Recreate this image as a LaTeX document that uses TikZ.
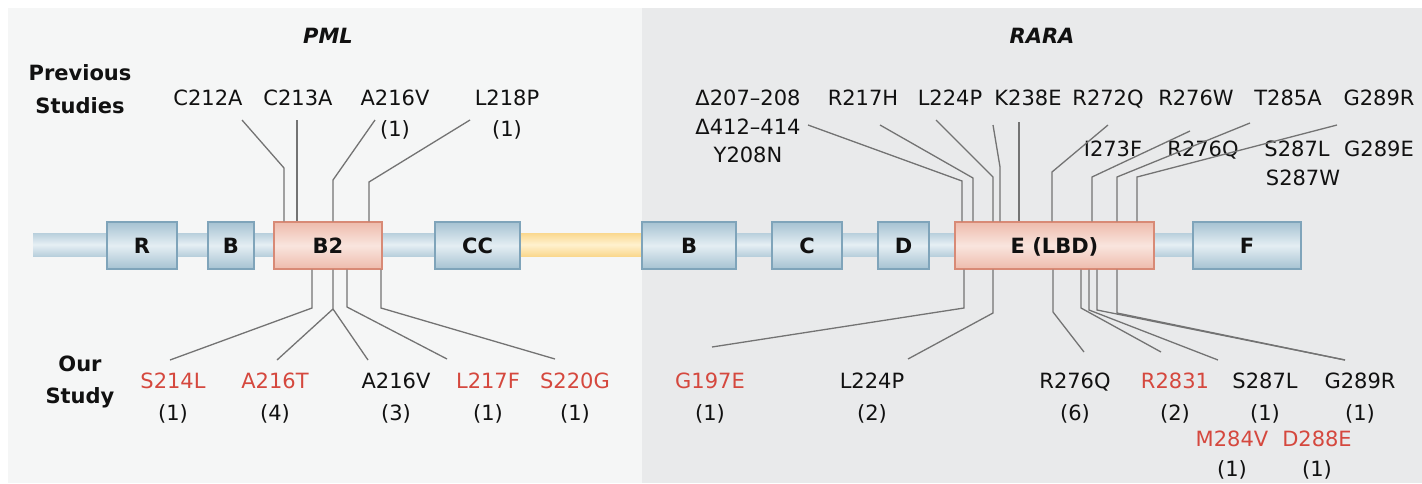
\documentclass[tikz,border=0pt]{standalone}
\usepackage{fontspec}
\setmainfont{DejaVu Sans}
\usetikzlibrary{calc}
\definecolor{panelL}{HTML}{F5F6F6}
\definecolor{panelR}{HTML}{E9EAEB}
\definecolor{ink}{HTML}{111111}
\definecolor{mutred}{HTML}{D5483E}
\definecolor{linegray}{HTML}{737373}
\definecolor{bluedge}{HTML}{7FA4BA}
\definecolor{bluedark}{HTML}{A6C2D2}
\definecolor{bluelight}{HTML}{E4EEF3}
\definecolor{rededge}{HTML}{D88A76}
\definecolor{reddark}{HTML}{EEBBAC}
\definecolor{redlight}{HTML}{F9E5DE}
\definecolor{bbdark}{HTML}{B8CFDC}
\definecolor{bblight}{HTML}{E6EFF4}
\definecolor{ydark}{HTML}{FAD88E}
\definecolor{ylight}{HTML}{FFF1CF}
\begin{document}
\begin{tikzpicture}[x=1pt,y=-1pt,
  font=\fontsize{21}{31}\selectfont,
  lab/.style={anchor=base,inner sep=0pt,text=ink},
  novel/.style={text=mutred},
  head/.style={anchor=base,inner sep=0pt,text=ink,font=\fontsize{21}{31}\selectfont\bfseries},
  dombox/.style={draw=bluedge,line width=1.3pt,top color=bluedark,bottom color=bluedark,
    middle color=bluelight,minimum height=47pt,inner sep=0pt,text height=15pt,text depth=0pt,
    text=ink,font=\fontsize{21}{31}\selectfont\bfseries},
  hotbox/.style={dombox,draw=rededge,top color=reddark,bottom color=reddark,middle color=redlight},
  conn/.style={draw=linegray,line width=1.3pt,line join=miter}]
\useasboundingbox (0,0) rectangle (1422,483);
% panels
\fill[white] (0,0) rectangle (1422,483);
\fill[panelL] (8,8) rectangle (642,483);
\fill[panelR] (642,8) rectangle (1422,483);

% backbone
\path[top color=bbdark,bottom color=bbdark,middle color=bblight] (33,233) rectangle (440,256);
\path[top color=ydark,bottom color=ydark,middle color=ylight] (520,233) rectangle (645,256);
\path[top color=bbdark,bottom color=bbdark,middle color=bblight] (734,233) rectangle (1196,256);

% domains
\node[dombox,minimum width=70pt]  (pr)  at (142,245.5)   {R};
\node[dombox,minimum width=46pt]  (pb)  at (231,245.5)   {B};
\node[hotbox,minimum width=108pt] (pb2) at (328,245.5)   {B2};
\node[dombox,minimum width=85pt]  (pcc) at (477.5,245.5) {CC};
\node[dombox,minimum width=94pt]  (rb)  at (689,245.5)   {B};
\node[dombox,minimum width=70pt]  (rc)  at (807,245.5)   {C};
\node[dombox,minimum width=51pt]  (rd)  at (903.5,245.5) {D};
\node[hotbox,minimum width=199pt] (re)  at (1054.5,245.5){E (LBD)};
\node[dombox,minimum width=108pt] (rf)  at (1247,245.5)  {F};

% headings
\node[head,font=\fontsize{21}{31}\selectfont\bfseries\itshape] (pml) at (328,43) {PML};
\node[head,font=\fontsize{21}{31}\selectfont\bfseries\itshape] (rara) at (1042,43) {RARA};
\node[head] (prev1) at (80,80) {Previous};
\node[head] (prev2) at (80,113) {Studies};
\node[head] (our1) at (80,371) {Our};
\node[head] (our2) at (80,403) {Study};

% previously reported mutations
\node[lab] (t1) at (208,105) {C212A};
\node[lab] (t2) at (298,105) {C213A};
\node[lab] (t3) at (395,105) {A216V};
\node[lab] (t3n) at (395,136) {(1)};
\node[lab] (t4) at (507,105) {L218P};
\node[lab] (t4n) at (507,136) {(1)};
\node[lab] (u1) at (748,105) {Δ207–208};
\node[lab] (u1b) at (748,134) {Δ412–414};
\node[lab] (u1c) at (748,162) {Y208N};
\node[lab] (u2) at (863,105) {R217H};
\node[lab] (u3) at (950,105) {L224P};
\node[lab] (u4) at (1028,105) {K238E};
\node[lab] (u5) at (1108,105) {R272Q};
\node[lab] (u6) at (1196,105) {R276W};
\node[lab] (u7) at (1288,105) {T285A};
\node[lab] (u8) at (1379,105) {G289R};
\node[lab] (v1) at (1113,156) {I273F};
\node[lab] (v2) at (1203,156) {R276Q};
\node[lab] (v3) at (1297,156) {S287L};
\node[lab] (v4) at (1379,156) {G289E};
\node[lab] (v5) at (1303,185) {S287W};

% mutations of this study
\node[lab,novel] (s1) at (173,388) {S214L};   \node[lab] (s1n) at (173,420) {(1)};
\node[lab,novel] (s2) at (275,388) {A216T};   \node[lab] (s2n) at (275,420) {(4)};
\node[lab]       (s3) at (396,388) {A216V};   \node[lab] (s3n) at (396,420) {(3)};
\node[lab,novel] (s4) at (488,388) {L217F};   \node[lab] (s4n) at (488,420) {(1)};
\node[lab,novel] (s5) at (575,388) {S220G};   \node[lab] (s5n) at (575,420) {(1)};
\node[lab,novel] (w1) at (710,388) {G197E};   \node[lab] (w1n) at (710,420) {(1)};
\node[lab]       (w2) at (872,388) {L224P};   \node[lab] (w2n) at (872,420) {(2)};
\node[lab]       (w3) at (1075,388) {R276Q};  \node[lab] (w3n) at (1075,420) {(6)};
\node[lab,novel] (w4) at (1175,388) {R2831};  \node[lab] (w4n) at (1175,420) {(2)};
\node[lab]       (w5) at (1265,388) {S287L};  \node[lab] (w5n) at (1265,420) {(1)};
\node[lab]       (w6) at (1360,388) {G289R};  \node[lab] (w6n) at (1360,420) {(1)};
\node[lab,novel] (w7) at (1232,446) {M284V};  \node[lab] (w7n) at (1232,476) {(1)};
\node[lab,novel] (w8) at (1317,446) {D288E};  \node[lab] (w8n) at (1317,476) {(1)};

% leader ends near the labels
\coordinate (tt1) at (242,120);  \coordinate (tt2) at (297,120);
\coordinate (tt3) at (375,120);  \coordinate (tt4) at (470,120);
\coordinate (uu1) at (808,125);  \coordinate (uu2) at (880,125);
\coordinate (uu3) at (936,120);  \coordinate (uu4) at (993,125);
\coordinate (uu5) at (1019,122); \coordinate (uu6) at (1108,125);
\coordinate (uu7) at (1190,131); \coordinate (uu8) at (1250,123);
\coordinate (uu9) at (1337,125);
\coordinate (ss1) at (170,360);  \coordinate (ss2) at (277,360);
\coordinate (ss3) at (368,360);  \coordinate (ss4) at (447,359);
\coordinate (ss5) at (555,359);
\coordinate (ww1) at (712,347);  \coordinate (ww2) at (908,359);
\coordinate (ww3) at (1084,352); \coordinate (ww4) at (1161,352);
\coordinate (ww5) at (1218,360); \coordinate (ww6) at (1345,360);

% PML leaders, above
\draw[conn] (tt1) -- (284,168) -- (284,168 |- pb2.north);
\draw[conn] (tt2) -- (tt2 |- pb2.north);
\draw[conn] (tt3) -- (333,180) -- (333,180 |- pb2.north);
\draw[conn] (tt4) -- (369,182) -- (369,182 |- pb2.north);
% PML leaders, below
\draw[conn] (312,308 |- pb2.south) -- (312,308) -- (ss1);
\draw[conn] (333,309 |- pb2.south) -- (333,309) -- (ss2);
\draw[conn] (333,309) -- (ss3);
\draw[conn] (347,307 |- pb2.south) -- (347,307) -- (ss4);
\draw[conn] (381,308 |- pb2.south) -- (381,308) -- (ss5);
% RARA leaders, above
\draw[conn] (uu1) -- (962,181) -- (962,181 |- re.north);
\draw[conn] (uu2) -- (973,178) -- (973,178 |- re.north);
\draw[conn] (uu3) -- (993,177) -- (993,177 |- re.north);
\draw[conn] (uu4) -- (1000,167) -- (1000,167 |- re.north);
\draw[conn] (uu5) -- (uu5 |- re.north);
\draw[conn] (uu6) -- (1052,172) -- (1052,172 |- re.north);
\draw[conn] (uu7) -- (1092,177) -- (1092,177 |- re.north);
\draw[conn] (uu8) -- (1117,177) -- (1117,177 |- re.north);
\draw[conn] (uu9) -- (1137,177) -- (1137,177 |- re.north);
% RARA leaders, below
\draw[conn] (964,308 |- re.south) -- (964,308) -- (ww1);
\draw[conn] (993,313 |- re.south) -- (993,313) -- (ww2);
\draw[conn] (1053,312 |- re.south) -- (1053,312) -- (ww3);
\draw[conn] (1081,308 |- re.south) -- (1081,308) -- (ww4);
\draw[conn] (1089,310 |- re.south) -- (1089,310) -- (ww5);
\draw[conn] (1097,310 |- re.south) -- (1097,310) -- (ww6);
\draw[conn] (1117,313 |- re.south) -- (1117,313) -- (ww6);
\end{tikzpicture}
\end{document}
